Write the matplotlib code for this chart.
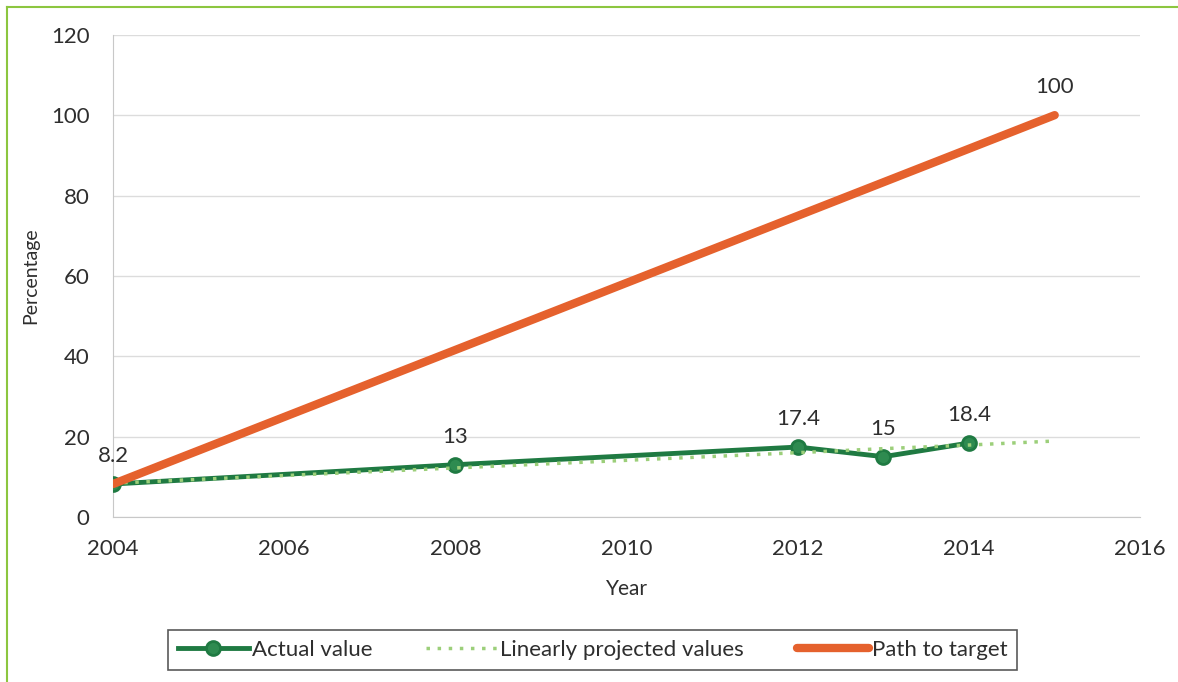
import matplotlib.pyplot as plt
from matplotlib.lines import Line2D

plt.rcParams['font.family'] = ['Lato', 'DejaVu Sans']

# data
years_actual = [2004, 2008, 2012, 2013, 2014]
actual_values = [8.2, 13, 17.4, 15, 18.4]
actual_labels = ['8.2', '13', '17.4', '15', '18.4']

years_projected = [2004, 2008, 2012, 2013, 2014, 2015]
projected_values = [8.4, 12.2, 16.0, 17.0, 17.9, 18.9]

years_target = [2004, 2015]
target_values = [8.2, 100]

x_ticks = [2004, 2006, 2008, 2010, 2012, 2014, 2016]
y_ticks = [0, 20, 40, 60, 80, 100, 120]

GREEN = '#1f7a42'
LIGHT_GREEN = '#9ccf7a'
ORANGE = '#e5612d'
TXT = '#2e2e2e'
FS = 16

fig = plt.figure(figsize=(11.78, 6.82), dpi=100)
ax = fig.add_axes([0.096, 0.242, 0.872, 0.707])

# frame around the figure
fig.add_artist(Line2D([0.006, 0.006], [0, 0.99], color='#8cc63f', lw=1.5, transform=fig.transFigure))
fig.add_artist(Line2D([0.006, 1.0], [0.99, 0.99], color='#8cc63f', lw=1.5, transform=fig.transFigure))

ax.plot(years_actual, actual_values, color=GREEN, lw=3.5, marker='o', ms=10,
        mfc='#2e8b50', mec=GREEN, mew=2, zorder=3, label='Actual value')
ax.plot(years_projected, projected_values, color=LIGHT_GREEN, lw=2.5, ls=(0, (1, 2.2)),
        zorder=4, label='Linearly projected values')
ax.plot(years_target, target_values, color=ORANGE, lw=6, solid_capstyle='round',
        zorder=5, label='Path to target')

for x, y, s in zip(years_actual, actual_values, actual_labels):
    ax.annotate(s, (x, y), xytext=(0, 20), textcoords='offset points',
                ha='center', va='center', fontsize=FS, color=TXT)
ax.annotate('100', (years_target[-1], target_values[-1]), xytext=(0, 20),
            textcoords='offset points', ha='center', va='center', fontsize=FS, color=TXT)

ax.set_xlim(2004, 2016)
ax.set_ylim(0, 120)
ax.set_xticks(x_ticks)
ax.set_yticks(y_ticks)
ax.tick_params(length=0, labelsize=FS, colors=TXT)
ax.tick_params(axis='x', pad=16)
ax.tick_params(axis='y', pad=17)
ax.grid(axis='y', color='#dcdcdc', lw=1)
ax.set_axisbelow(True)
for side in ['top', 'right']:
    ax.spines[side].set_visible(False)
ax.spines['left'].set_color('#c8c8c8')
ax.spines['bottom'].set_color('#c8c8c8')

ax.set_xlabel('Year', fontsize=15, color=TXT, labelpad=14)
ax.set_ylabel('Percentage', fontsize=14, color=TXT, labelpad=8)

leg = fig.legend(loc='center', bbox_to_anchor=(0.503, 0.047), ncol=3, fontsize=FS,
                 frameon=True, fancybox=False, edgecolor='#303030',
                 handlelength=3.2, columnspacing=2.4, handletextpad=0.15,
                 borderpad=0.45)
leg.get_frame().set_linewidth(1.2)
for t in leg.get_texts():
    t.set_color(TXT)

fig.savefig('out.png', dpi=100)
